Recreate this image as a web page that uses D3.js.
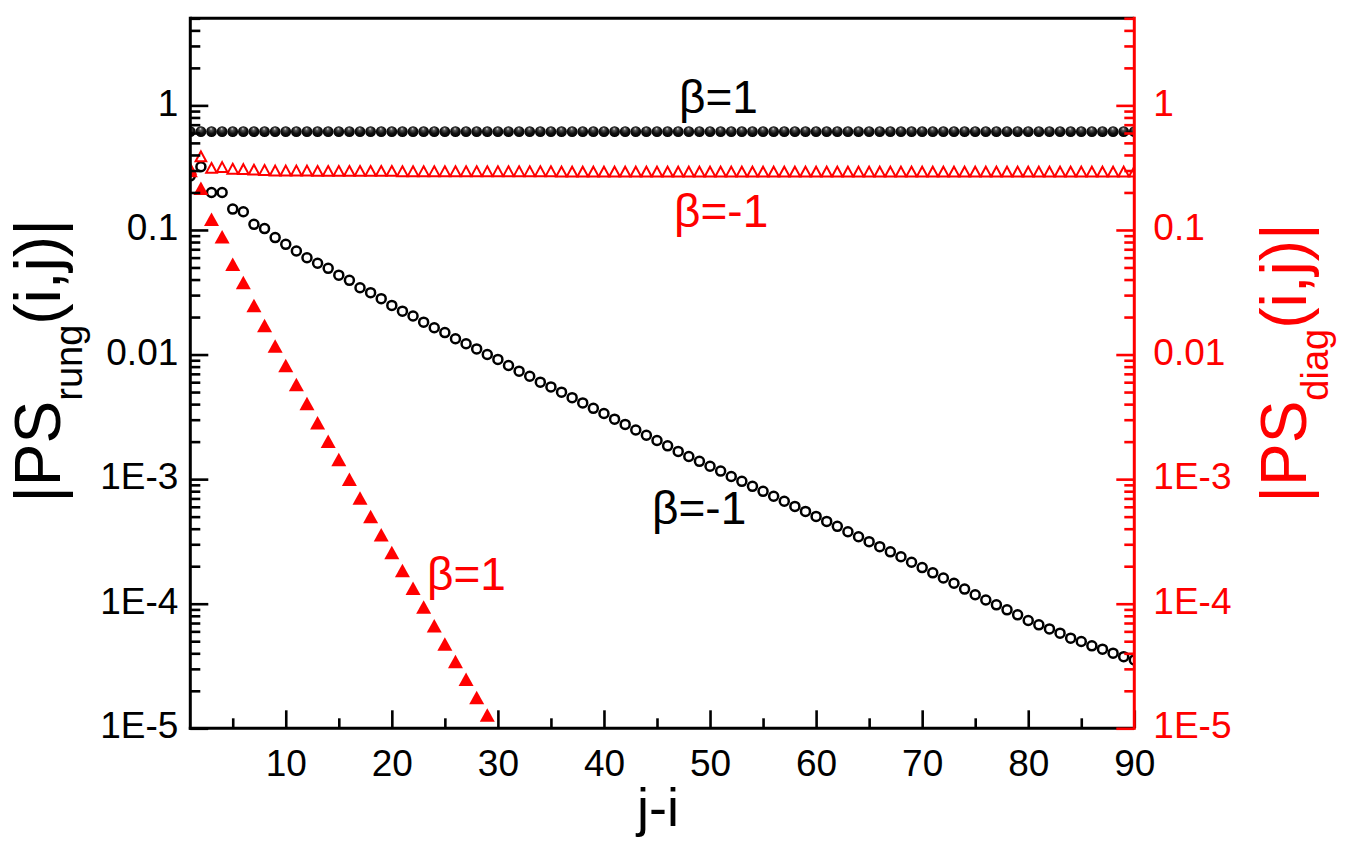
<!DOCTYPE html>
<html>
<head>
<meta charset="utf-8">
<script src="https://cdn.jsdelivr.net/npm/d3@7"></script>
<style>
  body { margin: 0; background: #fff; }
  svg { display: block; }
</style>
</head>
<body>
<script>
// j-i distances
const distance = d3.range(1, 91);

// |PS_rung(i,j)|, beta = 1 (black spheres)
const rungBetaPos = [
  0.615, 0.615, 0.615, 0.615, 0.615, 0.615, 0.615, 0.615, 0.615, 0.615,
  0.615, 0.615, 0.615, 0.615, 0.615, 0.615, 0.615, 0.615, 0.615, 0.615,
  0.615, 0.615, 0.615, 0.615, 0.615, 0.615, 0.615, 0.615, 0.615, 0.615,
  0.615, 0.615, 0.615, 0.615, 0.615, 0.615, 0.615, 0.615, 0.615, 0.615,
  0.615, 0.615, 0.615, 0.615, 0.615, 0.615, 0.615, 0.615, 0.615, 0.615,
  0.615, 0.615, 0.615, 0.615, 0.615, 0.615, 0.615, 0.615, 0.615, 0.615,
  0.615, 0.615, 0.615, 0.615, 0.615, 0.615, 0.615, 0.615, 0.615, 0.615,
  0.615, 0.615, 0.615, 0.615, 0.615, 0.615, 0.615, 0.615, 0.615, 0.615,
  0.615, 0.615, 0.615, 0.615, 0.615, 0.615, 0.615, 0.615, 0.615, 0.615
];

// |PS_rung(i,j)|, beta = -1 (black open circles)
const rungBetaNeg = [
  0.272, 0.322, 0.200, 0.200, 0.147, 0.140, 0.111, 0.1026, 0.0869, 0.0767,
  0.0678, 0.0598, 0.0540, 0.0492, 0.0434, 0.0394, 0.0344, 0.0314, 0.0281, 0.0248,
  0.0223, 0.0204, 0.0182, 0.0164, 0.0150, 0.0134, 0.0122, 0.0111, 0.0100, 0.00914,
  0.00817, 0.00736, 0.00670, 0.00600, 0.00550, 0.00499, 0.00451, 0.00409, 0.00370, 0.00336,
  0.00303, 0.00275, 0.00248, 0.00225, 0.00204, 0.00185, 0.00167, 0.00152, 0.00139, 0.00127,
  0.00116, 0.00105, 9.6e-4, 8.75e-4, 7.98e-4, 7.28e-4, 6.64e-4, 6.04e-4, 5.51e-4, 5.02e-4,
  4.58e-4, 4.18e-4, 3.78e-4, 3.45e-4, 3.15e-4, 2.87e-4, 2.61e-4, 2.38e-4, 2.15e-4, 1.95e-4,
  1.77e-4, 1.61e-4, 1.46e-4, 1.31e-4, 1.18e-4, 1.07e-4, 9.8e-5, 8.93e-5, 8.14e-5, 7.33e-5,
  6.77e-5, 6.28e-5, 5.80e-5, 5.29e-5, 4.97e-5, 4.59e-5, 4.32e-5, 4.01e-5, 3.76e-5, 3.54e-5
];

// |PS_diag(i,j)|, beta = 1 (red filled triangles), j-i = 1..30
const diagBetaPos = [
  0.30, 0.216, 0.122, 0.0882, 0.053, 0.0378, 0.0248, 0.0171, 0.0117, 0.00817,
  0.00575, 0.00405, 0.00283, 0.00201, 0.00144, 0.00100, 7.06e-4, 5.02e-4, 3.58e-4, 2.58e-4,
  1.85e-4, 1.33e-4, 9.4e-5, 6.64e-5, 4.76e-5, 3.43e-5, 2.48e-5, 1.77e-5, 1.28e-5, 9.2e-6
];

// |PS_diag(i,j)|, beta = -1 (red open triangles)
const diagBetaNeg = [
  0.31, 0.39, 0.315, 0.32, 0.31, 0.308, 0.305, 0.303, 0.300, 0.300,
  0.300, 0.300, 0.298, 0.298, 0.298, 0.298, 0.298, 0.298, 0.298, 0.298,
  0.296, 0.296, 0.296, 0.296, 0.296, 0.296, 0.296, 0.296, 0.296, 0.296,
  0.296, 0.296, 0.296, 0.296, 0.296, 0.294, 0.294, 0.294, 0.294, 0.294,
  0.294, 0.294, 0.294, 0.294, 0.294, 0.294, 0.294, 0.294, 0.294, 0.294,
  0.294, 0.294, 0.294, 0.294, 0.294, 0.294, 0.294, 0.294, 0.294, 0.294,
  0.294, 0.294, 0.294, 0.294, 0.294, 0.294, 0.294, 0.294, 0.294, 0.294,
  0.294, 0.294, 0.294, 0.294, 0.294, 0.294, 0.294, 0.294, 0.294, 0.294,
  0.294, 0.294, 0.294, 0.294, 0.294, 0.294, 0.294, 0.294, 0.294, 0.294
];

const yTickValues = [1, 0.1, 0.01, 1e-3, 1e-4, 1e-5],
      yTickLabels = ['1', '0.1', '0.01', '1E-3', '1E-4', '1E-5'],
      xTickValues = [10, 20, 30, 40, 50, 60, 70, 80, 90],
      xMinorValues = [5, 15, 25, 35, 45, 55, 65, 75, 85];

const width = 1350,
      height = 842,
      plotLeft = 190.3,
      plotRight = 1134.3,
      plotTop = 18.3,
      plotBottom = 728.3,
      font = '"Liberation Sans", Arial, Helvetica, sans-serif';

const xScale = d3.scaleLinear().domain([1, 90]).range([plotLeft, plotRight]),
      yScale = d3.scaleLog().domain([1e-5, 5]).range([plotBottom, plotTop]);

// minor log ticks 2..9 in every decade
const yMinorValues = [];
[1e-5, 1e-4, 1e-3, 1e-2, 1e-1, 1].forEach(function(dec) {
  for (let m = 2; m <= 9; m++) {
    if (dec * m <= 5.0001) yMinorValues.push(dec * m);
  }
});

const svg = d3.select('body').append('svg')
              .attr('width', width)
              .attr('height', height)
              .style('font-family', font);

const defs = svg.append('defs');
defs.append('clipPath').attr('id', 'plot-clip')
    .append('rect')
    .attr('x', plotLeft).attr('y', plotTop)
    .attr('width', plotRight - plotLeft).attr('height', plotBottom - plotTop);

const grad = defs.append('radialGradient')
                 .attr('id', 'sphere')
                 .attr('cx', '50%').attr('cy', '45%')
                 .attr('fx', '45%').attr('fy', '22%')
                 .attr('r', '60%');
grad.append('stop').attr('offset', '0%').attr('stop-color', '#e0e0e0');
grad.append('stop').attr('offset', '22%').attr('stop-color', '#555');
grad.append('stop').attr('offset', '55%').attr('stop-color', '#111');
grad.append('stop').attr('offset', '100%').attr('stop-color', '#000');

function triangle(w, h) {
  return 'M0,' + (-h / 2) + 'L' + (w / 2) + ',' + (h / 2) + 'L' + (-w / 2) + ',' + (h / 2) + 'Z';
}

const marks = svg.append('g').attr('clip-path', 'url(#plot-clip)');

// black open circles, beta = -1
marks.append('g').selectAll('circle')
     .data(rungBetaNeg)
     .enter()
     .append('circle')
     .attr('cx', (d, i) => xScale(distance[i]))
     .attr('cy', d => yScale(d))
     .attr('r', 4.5)
     .attr('fill', 'none')
     .attr('stroke', '#000')
     .attr('stroke-width', 2.5);

// black spheres, beta = 1
marks.append('g').selectAll('circle')
     .data(rungBetaPos)
     .enter()
     .append('circle')
     .attr('cx', (d, i) => xScale(distance[i]))
     .attr('cy', d => yScale(d))
     .attr('r', 5.4)
     .attr('fill', 'url(#sphere)');

// red open triangles, beta = -1
marks.append('g').selectAll('path')
     .data(diagBetaNeg)
     .enter()
     .append('path')
     .attr('transform', (d, i) => 'translate(' + xScale(distance[i]) + ',' + yScale(d) + ')')
     .attr('d', triangle(10.6, 9.8))
     .attr('fill', 'none')
     .attr('stroke', '#ff0000')
     .attr('stroke-width', 2);

// red filled triangles, beta = 1
marks.append('g').selectAll('path')
     .data(diagBetaPos)
     .enter()
     .append('path')
     .attr('transform', (d, i) => 'translate(' + xScale(distance[i]) + ',' + yScale(d) + ')')
     .attr('d', triangle(15, 13.5))
     .attr('fill', '#ff0000');

// axes
function styleAxis(g, color, size) {
  g.attr('font-family', font)
   .attr('font-size', size)
   .attr('color', color);
  g.selectAll('line').attr('stroke-width', 2.6);
  g.selectAll('path.domain').attr('stroke-width', 3);
  g.selectAll('text').attr('fill', color);
}

// top border
svg.append('line')
   .attr('x1', plotLeft).attr('x2', plotRight)
   .attr('y1', plotTop).attr('y2', plotTop)
   .attr('stroke', '#000').attr('stroke-width', 3);

// bottom axis
const xAxis = svg.append('g')
                 .attr('transform', 'translate(0,' + plotBottom + ')')
                 .call(d3.axisBottom(xScale).tickValues(xTickValues).tickFormat(d3.format('d'))
                         .tickSizeInner(-18).tickSizeOuter(0).tickPadding(21));
styleAxis(xAxis, '#000', 37);
xAxis.selectAll('path.domain').attr('d', 'M' + (plotLeft - 1.5) + ',0H' + plotRight);

const xMinor = svg.append('g')
                  .attr('transform', 'translate(0,' + plotBottom + ')')
                  .call(d3.axisBottom(xScale).tickValues(xMinorValues).tickFormat('')
                          .tickSizeInner(-10).tickSizeOuter(0));
xMinor.select('path.domain').remove();
styleAxis(xMinor, '#000', 37);

// left axis
const yAxis = svg.append('g')
                 .attr('transform', 'translate(' + plotLeft + ',0)')
                 .call(d3.axisLeft(yScale).tickValues(yTickValues)
                         .tickFormat(d => yTickLabels[yTickValues.indexOf(d)])
                         .tickSizeInner(-18).tickSizeOuter(0).tickPadding(12));
styleAxis(yAxis, '#000', 37);
yAxis.selectAll('text').attr('dy', '0.26em');
yAxis.selectAll('path.domain').attr('d', 'M0,' + (plotTop - 1.5) + 'V' + (plotBottom + 1.5));

const yMinor = svg.append('g')
                  .attr('transform', 'translate(' + plotLeft + ',0)')
                  .call(d3.axisLeft(yScale).tickValues(yMinorValues).tickFormat('')
                          .tickSizeInner(-10).tickSizeOuter(0));
yMinor.select('path.domain').remove();
styleAxis(yMinor, '#000', 37);

// right axis (red)
const yRight = svg.append('g')
                  .attr('transform', 'translate(' + plotRight + ',0)')
                  .call(d3.axisRight(yScale).tickValues(yTickValues)
                          .tickFormat(d => yTickLabels[yTickValues.indexOf(d)])
                          .tickSizeInner(-18).tickSizeOuter(0).tickPadding(19));
styleAxis(yRight, '#ff0000', 37);
yRight.selectAll('text').attr('dy', '0.26em');
yRight.selectAll('path.domain').attr('d', 'M0,' + (plotTop - 1.5) + 'V' + (plotBottom + 1.5));

const yRightMinor = svg.append('g')
                       .attr('transform', 'translate(' + plotRight + ',0)')
                       .call(d3.axisRight(yScale).tickValues(yMinorValues).tickFormat('')
                               .tickSizeInner(-10).tickSizeOuter(0));
yRightMinor.select('path.domain').remove();
styleAxis(yRightMinor, '#ff0000', 37);

// axis titles
svg.append('text')
   .attr('x', 658).attr('y', 826)
   .attr('text-anchor', 'middle')
   .attr('font-size', 54)
   .text('j-i');

const leftTitle = svg.append('text')
                     .attr('transform', 'translate(60,361) rotate(-90)')
                     .attr('text-anchor', 'middle')
                     .attr('font-size', 64)
                     .attr('fill', '#000');
leftTitle.append('tspan').text('|PS');
leftTitle.append('tspan').attr('font-size', 38).attr('dy', 22).text('rung');
leftTitle.append('tspan').attr('dy', -22).text('(i,j)|');

const rightTitle = svg.append('text')
                      .attr('transform', 'translate(1306,363) rotate(-90)')
                      .attr('text-anchor', 'middle')
                      .attr('font-size', 64)
                      .attr('fill', '#ff0000');
rightTitle.append('tspan').text('|PS');
rightTitle.append('tspan').attr('font-size', 38).attr('dy', 22).text('diag');
rightTitle.append('tspan').attr('dy', -22).text('(i,j)|');

// curve labels
const curveLabels = [
  { text: 'β=1', x: 679, y: 113, color: '#000' },
  { text: 'β=-1', x: 674, y: 227, color: '#ff0000' },
  { text: 'β=-1', x: 652, y: 524, color: '#000' },
  { text: 'β=1', x: 427, y: 590, color: '#ff0000' }
];

svg.selectAll('text.curve-label')
   .data(curveLabels)
   .enter()
   .append('text')
   .attr('class', 'curve-label')
   .attr('x', d => d.x)
   .attr('y', d => d.y)
   .attr('font-size', 46)
   .attr('fill', d => d.color)
   .text(d => d.text);
</script>
</body>
</html>
